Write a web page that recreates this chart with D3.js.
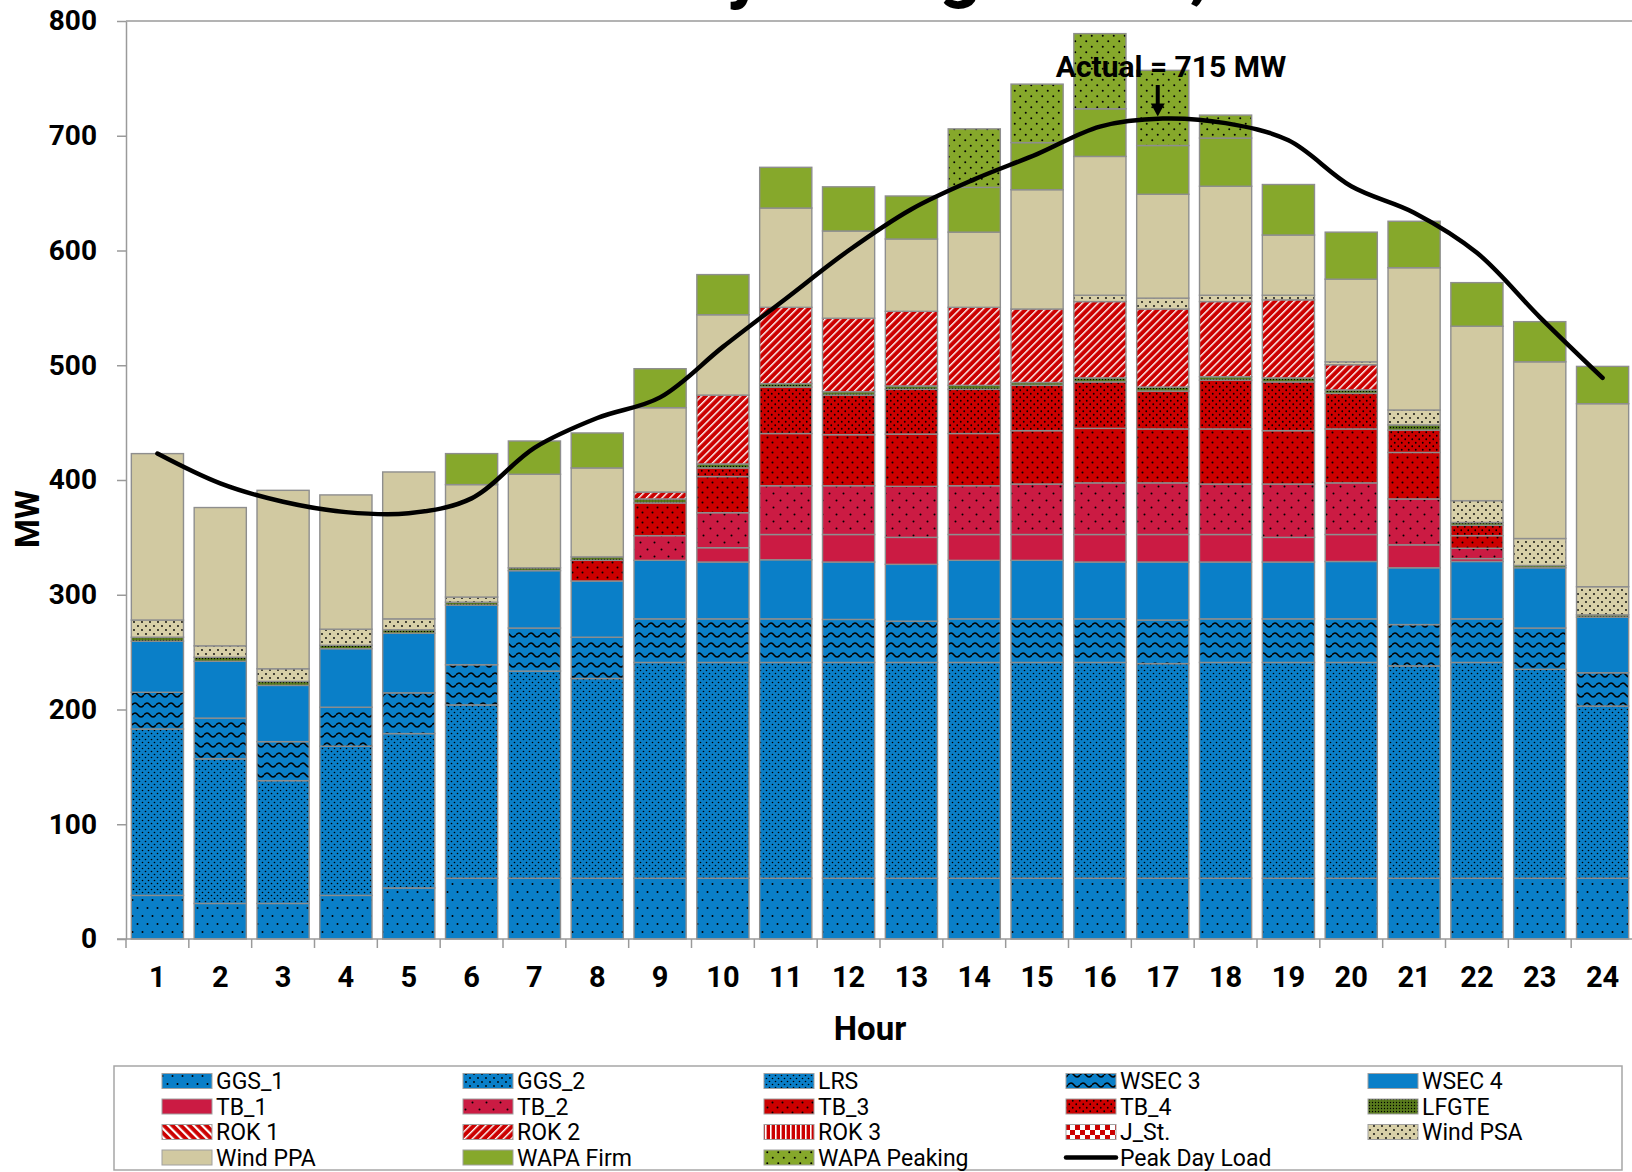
<!DOCTYPE html>
<html><head><meta charset="utf-8">
<script src="https://cdn.jsdelivr.net/npm/d3@7"></script>
<style>
html,body{margin:0;padding:0;background:#fff;}
svg{display:block;}
</style></head>
<body><svg id="chart" width="1632" height="1172"></svg>
<script>
// ---------------- DATA ----------------
const hours = [1,2,3,4,5,6,7,8,9,10,11,12,13,14,15,16,17,18,19,20,21,22,23,24];
const yTicks = [0,100,200,300,400,500,600,700,800];
const titleText = "Peak Day \u2013 August 23, 2023";
const annotationText = "Actual = 715 MW";
const actualPeak = 715, actualHour = 17;

const GGS_1      = [38,31,31,38,44.5,53,53,53,53,53,53,53,53,53,53,53,53,53,53,53,53,53,53,53];
const GGS_2      = [0,0,0,0,0,0,0,0,0,0,0,0,0,0,0,0,0,0,0,0,0,0,0,0];
const LRS        = [145,126,107,130,134.5,151,180.5,174,188,188,188,188,188,188,188,188,187,188,188,188,185,188,182,150];
const WSEC_3     = [32,35.5,34,34,35.5,35,37.5,36,38,38,38,37.5,36,38,38,38,38,38,38,38,36,38,36,29];
const WSEC_4     = [44.5,49.5,49,51,52,52,50,49,51,49.5,51.5,50,49.5,51,51,49.5,50.5,49.5,49.5,50,49.5,50,52.5,48.5];
const TB_1       = [0,0,0,0,0,0,0,0,0,12.5,22,24,23.5,22.5,22.5,24,24,24,21.5,23.5,20,2.5,0,0];
const TB_2       = [0,0,0,0,0,0,0,0,21.5,30.5,42.5,42.5,44.5,42.5,44,45,45,44,46.5,45,40,9,0,0];
const TB_3       = [0,0,0,0,0,0,0,18,28.5,31.5,45.5,44.5,45.5,45.5,46.5,47.5,47,48,46.5,47,40.5,11,0,0];
const TB_4       = [0,0,0,0,0,0,0,0,0,7.5,40.5,34.5,39,38.5,39.5,40.5,33,42.5,42.5,31,19.5,9,0,0];
const LFGTE      = [3.5,3.5,3.5,3,3,2.5,2.5,3,3.5,3.5,3,3,3,3.5,2.5,3.5,3.5,3,3.5,3,4.5,2.5,2,2];
const ROK_1      = [0,0,0,0,0,0,0,0,0,0,0,0,0,0,0,0,0,0,0,0,0,0,0,0];
const ROK_2      = [0,0,0,0,0,0,0,0,6,60,66.5,64,65,68,64,66.5,68,65.5,68,22,0,0,0,0];
const ROK_3      = [0,0,0,0,0,0,0,0,0,0,0,0,0,0,0,0,0,0,0,0,0,0,0,0];
const J_St       = [0,0,0,0,0,0,0,0,0,0,0,0,0,0,0,0,0,0,0,0,0,0,0,0];
const Wind_PSA   = [15,10,11,14,9.5,4.5,0,0,0,0,0,0,0,0,0,5.5,9.5,5.5,4,2.5,13,19,23.5,24.5];
const Wind_PPA   = [145,120.5,155.5,117,128,98,81.5,77.5,73.5,70,86.5,76,63,65.5,104,121,90.5,95,52.5,72,124,152,154,159.5];
const WAPA_Firm  = [0,0,0,0,0,27,29,30.5,34,35,35.5,38.5,37.5,39,41,41.5,42.5,42,44,41,40.5,38,35,32.5];
const WAPA_Peak  = [0,0,0,0,0,0,0,0,0,0,0,0,0,51,51,65.5,65.5,20,0,0,0,0,0,0];
const Peak_Day_Load = [423,397,381,372,371,384,428,454,472,516,558,600,636,662,684,708,715,711,696,656,633,598,542,489];

const seriesNames = ["GGS_1","GGS_2","LRS","WSEC 3","WSEC 4","TB_1","TB_2","TB_3","TB_4","LFGTE",
                     "ROK 1","ROK 2","ROK 3","J_St.","Wind PSA","Wind PPA","WAPA Firm","WAPA Peaking"];
const seriesValues = [GGS_1,GGS_2,LRS,WSEC_3,WSEC_4,TB_1,TB_2,TB_3,TB_4,LFGTE,
                      ROK_1,ROK_2,ROK_3,J_St,Wind_PSA,Wind_PPA,WAPA_Firm,WAPA_Peak];
const lineName = "Peak Day Load";

// ---------------- STYLE ----------------
const BLUE="#0a7fc8", CRIMSON="#cb1b43", RED="#cc0000", BEIGE="#d1c9a1", GREEN="#86a82b", OLIVE="#587a1c";
const FONT = "Roboto, 'Liberation Sans', Arial, sans-serif";

const svg = d3.select("#chart");
const defs = svg.append("defs");

function dotPattern(id, bg, w, h, dots, r, col){
  const p = defs.append("pattern").attr("id",id).attr("patternUnits","userSpaceOnUse")
     .attr("width",w).attr("height",h);
  p.append("rect").attr("width",w).attr("height",h).attr("fill",bg);
  dots.forEach(d=>p.append("circle").attr("cx",d[0]).attr("cy",d[1]).attr("r",r).attr("fill",col||"#000"));
  return "url(#"+id+")";
}
function hatchPattern(id, bg, size, lw, angle, col){
  const p = defs.append("pattern").attr("id",id).attr("patternUnits","userSpaceOnUse")
     .attr("width",size).attr("height",size).attr("patternTransform","rotate("+angle+")");
  p.append("rect").attr("width",size).attr("height",size).attr("fill",bg);
  p.append("rect").attr("x",0).attr("y",0).attr("width",lw).attr("height",size).attr("fill",col||"#fff");
  return "url(#"+id+")";
}
const fills = {};
fills["GGS_1"] = dotPattern("pGGS1", BLUE, 10, 16, [[2.5,4],[7.5,12]], 1.0);
fills["GGS_2"] = dotPattern("pGGS2", BLUE, 8, 8, [[2,2],[6,6]], 0.9);
fills["LRS"]   = dotPattern("pLRS", BLUE, 6, 6, [[1.5,1.5],[4.5,4.5]], 0.8);
(function(){
  const p = defs.append("pattern").attr("id","pWSEC3").attr("patternUnits","userSpaceOnUse")
    .attr("width",12).attr("height",10);
  p.append("rect").attr("width",12).attr("height",10).attr("fill",BLUE);
  p.append("path").attr("d","M0,5 Q3,1 6,5 T12,5").attr("fill","none").attr("stroke","#000").attr("stroke-width",1.5);
  fills["WSEC 3"]="url(#pWSEC3)";
})();
fills["WSEC 4"] = BLUE;
fills["TB_1"] = CRIMSON;
fills["TB_2"] = dotPattern("pTB2", CRIMSON, 14, 14, [[3.5,3.5],[10.5,10.5]], 1.0);
fills["TB_3"] = dotPattern("pTB3", RED, 10, 10, [[2.5,2.5],[7.5,7.5]], 1.0);
fills["TB_4"] = dotPattern("pTB4", RED, 7, 7, [[1.75,1.75],[5.25,5.25]], 0.9);
fills["LFGTE"] = dotPattern("pLFG", OLIVE, 3, 3, [[1.5,1.5]], 0.7);
fills["ROK 1"] = hatchPattern("pROK1", RED, 6, 2.2, -45);
fills["ROK 2"] = hatchPattern("pROK2", RED, 5.5, 1.4, 45);
fills["ROK 3"] = hatchPattern("pROK3", RED, 5, 1.6, 0);
(function(){
  const p = defs.append("pattern").attr("id","pJST").attr("patternUnits","userSpaceOnUse")
    .attr("width",10).attr("height",10);
  p.append("rect").attr("width",10).attr("height",10).attr("fill","#fff");
  p.append("rect").attr("width",5).attr("height",5).attr("fill",RED);
  p.append("rect").attr("x",5).attr("y",5).attr("width",5).attr("height",5).attr("fill",RED);
  fills["J_St."]="url(#pJST)";
})();
fills["Wind PSA"] = dotPattern("pPSA", "#d8d0a8", 8, 8, [[2,2],[6,6]], 0.9);
fills["Wind PPA"] = BEIGE;
fills["WAPA Firm"] = GREEN;
fills["WAPA Peaking"] = dotPattern("pWAPK", GREEN, 11, 11, [[2.75,2.75],[8.25,8.25]], 1.0);

// ---------------- SCALES ----------------
const x = d3.scaleBand().domain(hours).range([126, 1634]).paddingInner(0.17).paddingOuter(0.085);
const y = d3.scaleLinear().domain([0, 800]).range([939, 21]);

// table for stack
const table = hours.map((h,i)=>{
  const row = {hour:h};
  seriesNames.forEach((n,k)=>row[n]=seriesValues[k][i]);
  return row;
});
const stacked = d3.stack().keys(seriesNames)(table);

// ---------------- TITLE (cut off at top, as in the original) ----------------
const title = svg.append("text").attr("font-family",FONT).attr("font-weight","bold")
  .attr("font-size",64).attr("fill","#000").attr("x",0).attr("y",0).text(titleText);
(function(){
  const node = title.node();
  const iy = titleText.indexOf("y"), ic = titleText.indexOf(",");
  const cx = i => { const e = node.getExtentOfChar(i); return e.x + e.width/2; };
  const fs = 64 * (1199 - 745) / (cx(ic) - cx(iy));
  title.attr("font-size", fs);
  const dx = (745 + 1199)/2 - (cx(iy) + cx(ic))/2;
  title.attr("x", dx).attr("y", 10 - 0.21*fs);
})();

// ---------------- FRAME ----------------
const AXIS_COL = "#9a9a9a";
svg.append("line").attr("x1",126).attr("x2",1632).attr("y1",y(800)).attr("y2",y(800))
  .attr("stroke",AXIS_COL).attr("stroke-width",1.5);

// ---------------- BARS ----------------
const gBars = svg.append("g");
stacked.forEach(layer=>{
  const name = layer.key;
  gBars.append("g").selectAll("rect")
    .data(layer.filter(d=>d[1]-d[0]>0))
    .join("rect")
    .attr("x", d=>x(d.data.hour))
    .attr("width", x.bandwidth())
    .attr("y", d=>y(d[1]))
    .attr("height", d=>y(d[0])-y(d[1]))
    .attr("fill", fills[name])
    .attr("stroke","#8e8e8e")
    .attr("stroke-width",1.4);
});

// ---------------- AXES ----------------
const yAxis = svg.append("g").attr("transform","translate(126,0)")
  .call(d3.axisLeft(y).tickValues(yTicks).tickSize(9).tickSizeOuter(0).tickPadding(20));
yAxis.select(".domain").attr("stroke",AXIS_COL).attr("stroke-width",1.5);
yAxis.selectAll(".tick line").attr("stroke",AXIS_COL).attr("stroke-width",1.5);
yAxis.selectAll(".tick text").attr("font-family",FONT).attr("font-weight","bold")
  .attr("font-size",28).attr("fill","#000");

// x axis line + boundary ticks
svg.append("line").attr("x1",117).attr("x2",1632).attr("y1",y(0)).attr("y2",y(0))
  .attr("stroke",AXIS_COL).attr("stroke-width",1.5);
const bounds = d3.range(hours.length+1).map(i=>x.range()[0] + i*x.step());
svg.append("g").selectAll("line").data(bounds).join("line")
  .attr("x1",d=>d).attr("x2",d=>d).attr("y1",y(0)).attr("y2",y(0)+9)
  .attr("stroke",AXIS_COL).attr("stroke-width",1.5);
const xAxis = svg.append("g").attr("transform","translate(0,"+y(0)+")")
  .call(d3.axisBottom(x).tickSize(0).tickPadding(27));
xAxis.select(".domain").remove();
xAxis.selectAll(".tick text").attr("font-family",FONT).attr("font-weight","bold")
  .attr("font-size",29).attr("fill","#000");

// axis titles
svg.append("text").attr("x",870).attr("y",1040).attr("text-anchor","middle")
  .attr("font-family",FONT).attr("font-weight","bold").attr("font-size",33).text("Hour");
svg.append("text").attr("transform","translate(27,519) rotate(-90)").attr("text-anchor","middle")
  .attr("dy","0.36em").attr("font-family",FONT).attr("font-weight","bold").attr("font-size",33).text("MW");

// ---------------- LINE ----------------
const lineGen = d3.line()
  .x((d,i)=>x(hours[i]) + x.bandwidth()/2)
  .y(d=>y(d))
  .curve(d3.curveCatmullRom.alpha(0.5));
svg.append("path").datum(Peak_Day_Load).attr("d",lineGen)
  .attr("fill","none").attr("stroke","#000").attr("stroke-width",4.5).attr("stroke-linecap","round");

// ---------------- ANNOTATION ----------------
const ax = x(actualHour) + x.bandwidth()/2 - 5;
svg.append("text").attr("x",1171).attr("y",77).attr("text-anchor","middle")
  .attr("font-family",FONT).attr("font-weight","bold").attr("font-size",30).text(annotationText);
const tipY = y(actualPeak) - 2;
svg.append("line").attr("x1",ax).attr("x2",ax).attr("y1",85).attr("y2",tipY-10)
  .attr("stroke","#000").attr("stroke-width",4);
svg.append("path").attr("d",`M${ax-7},${tipY-13} L${ax+7},${tipY-13} L${ax},${tipY} Z`).attr("fill","#000");

// ---------------- LEGEND ----------------
svg.append("rect").attr("x",114).attr("y",1066).attr("width",1508).attr("height",104)
  .attr("fill","#fff").attr("stroke","#a6a6a6").attr("stroke-width",1.5);
const legendItems = seriesNames.concat([lineName]);
const colX = [162, 463, 764, 1066, 1368];
const rowY = [1081, 1106.5, 1132, 1157.5];
const lg = svg.append("g");
legendItems.forEach((name,i)=>{
  const cx = colX[i%5], cy = rowY[Math.floor(i/5)];
  if (name === lineName){
    lg.append("line").attr("x1",cx).attr("x2",cx+50).attr("y1",cy).attr("y2",cy)
      .attr("stroke","#000").attr("stroke-width",4.5).attr("stroke-linecap","round");
  } else {
    lg.append("rect").attr("x",cx).attr("y",cy-7.5).attr("width",50).attr("height",15)
      .attr("fill",fills[name]).attr("stroke","#a0a0a0").attr("stroke-width",1);
  }
  lg.append("text").attr("x",cx+54).attr("y",cy).attr("dy","0.36em")
    .attr("font-family",FONT).attr("font-size",23).attr("fill","#000").text(name);
});
</script>
</body></html>
